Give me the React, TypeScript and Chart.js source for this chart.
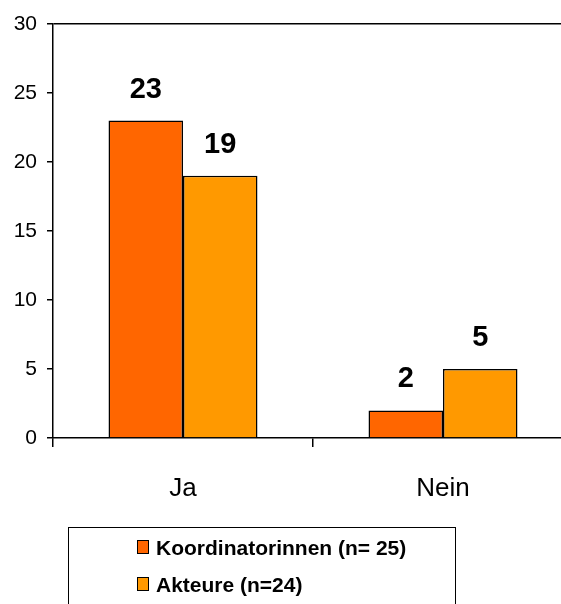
import React, { useEffect, useRef } from "react";
import { Chart, registerables } from "chart.js";

Chart.register(...registerables);

const categories = ["Ja", "Nein"];
const koordinatorinnen = [23, 2];
const akteure = [19, 5];
const seriesNames = ["Koordinatorinnen (n= 25)", "Akteure (n=24)"];
const seriesColors = ["#FF6600", "#FF9900"];
const yTicks = [0, 5, 10, 15, 20, 25, 30];

const FONT = '"Liberation Sans Narrow", "Arial Narrow", "Liberation Sans", Arial, sans-serif';

const valueLabels = {
  id: "valueLabels",
  afterDatasetsDraw(chart: any) {
    const ctx = chart.ctx;
    ctx.save();
    ctx.font = `bold 29px ${FONT}`;
    ctx.fillStyle = "#000";
    ctx.textAlign = "center";
    ctx.textBaseline = "alphabetic";
    chart.data.datasets.forEach((ds: any, i: number) => {
      chart.getDatasetMeta(i).data.forEach((bar: any, j: number) => {
        ctx.fillText(String(ds.data[j]), bar.x, bar.y - 23);
      });
    });
    ctx.restore();
  },
};

export default function App() {
  const ref = useRef<HTMLCanvasElement | null>(null);

  useEffect(() => {
    if (!ref.current) return;
    const chart = new Chart(ref.current, {
      type: "bar",
      data: {
        labels: categories,
        datasets: [
          {
            label: seriesNames[0],
            data: koordinatorinnen,
            backgroundColor: seriesColors[0],
            borderColor: "#000",
            borderWidth: 1.5,
            categoryPercentage: 0.573,
            barPercentage: 1,
          },
          {
            label: seriesNames[1],
            data: akteure,
            backgroundColor: seriesColors[1],
            borderColor: "#000",
            borderWidth: 1.5,
            categoryPercentage: 0.573,
            barPercentage: 1,
          },
        ],
      },
      options: {
        responsive: false,
        animation: false,
        layout: { padding: { top: 24, right: 67, left: 0, bottom: 0 } },
        plugins: {
          legend: { display: false },
          tooltip: { enabled: false },
        },
        scales: {
          x: {
            grid: {
              offset: true,
              drawOnChartArea: false,
              color: "#000",
              tickLength: 9,
              lineWidth: 1.5,
            },
            border: { display: true, color: "#000", width: 1.5 },
            ticks: {
              color: "#000",
              font: { family: FONT, size: 26 },
              padding: 26,
            },
            afterFit: (scale: any) => {
              scale.height = 604 - 438;
            },
          },
          y: {
            min: 0,
            max: 30,
            afterBuildTicks: (scale: any) => {
              scale.ticks = yTicks.map((v) => ({ value: v }));
            },
            grid: {
              drawOnChartArea: true,
              color: (c: any) => (c.tick && c.tick.value === 30 ? "#000" : "rgba(0,0,0,0)"),
              tickColor: "#000",
              tickLength: 6,
              lineWidth: 1.5,
            },
            border: { display: true, color: "#000", width: 1.5 },
            ticks: {
              color: "#000",
              font: { family: FONT, size: 21 },
              padding: 10,
            },
            afterFit: (scale: any) => {
              scale.width = 53;
            },
          },
        },
      },
      plugins: [valueLabels],
    });
    return () => chart.destroy();
  }, []);

  const itemStyle = (top: number): React.CSSProperties => ({
    position: "absolute",
    left: 68,
    top,
    display: "flex",
    alignItems: "center",
    height: 20,
  });

  return (
    <div
      style={{
        position: "fixed",
        left: 0,
        top: 0,
        width: 561,
        height: 604,
        overflow: "hidden",
        background: "#fff",
      }}
    >
      <canvas ref={ref} width={640} height={604} style={{ position: "absolute", left: 0, top: 0 }} />
      <div
        style={{
          position: "absolute",
          left: 68,
          top: 527,
          width: 388,
          height: 120,
          border: "1.5px solid #000",
          boxSizing: "border-box",
        }}
      />
      {seriesNames.map((name, i) => (
        <div key={name} style={itemStyle(538 + i * 37)}>
          <div
            style={{
              position: "absolute",
              left: 69,
              top: 2,
              width: 12,
              height: 14,
              background: seriesColors[i],
              border: "1.5px solid #000",
              boxSizing: "border-box",
            }}
          />
          <span
            style={{
              position: "absolute",
              left: 88,
              top: -3,
              whiteSpace: "nowrap",
              fontFamily: FONT,
              fontWeight: "bold",
              fontSize: 21,
              lineHeight: "26px",
              color: "#000",
            }}
          >
            {name}
          </span>
        </div>
      ))}
    </div>
  );
}
